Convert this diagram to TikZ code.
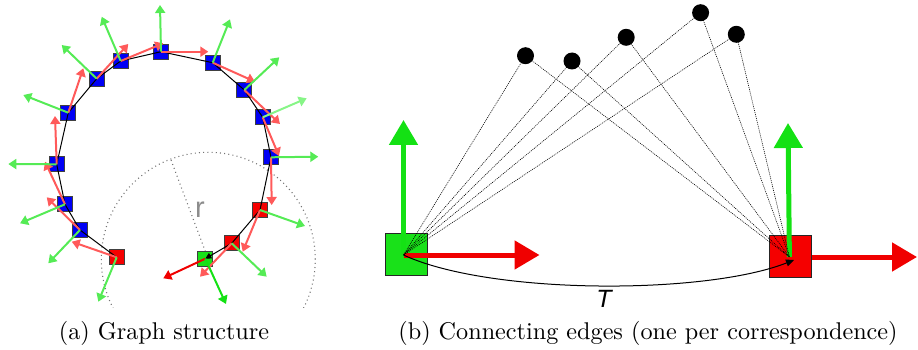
\documentclass[tikz,border=0pt]{standalone}
\usepackage{fontspec}
\newfontfamily\labfont{Liberation Sans}
\usetikzlibrary{arrows.meta}
\definecolor{ltred}{RGB}{255,90,90}
\definecolor{ltgreen}{RGB}{85,235,85}
\definecolor{paleg}{RGB}{135,245,135}
\definecolor{brred}{RGB}{240,0,0}
\definecolor{brgreen}{RGB}{20,225,20}
\definecolor{sqblue}{RGB}{0,0,245}
\definecolor{sqred}{RGB}{245,0,0}
\definecolor{sqgreen}{RGB}{25,225,25}
\begin{document}
\begin{tikzpicture}[x=1pt,y=-1pt,
  sq/.style={draw=black!75, line width=0.8pt, rectangle, minimum size=15pt, inner sep=0pt},
  bigsq/.style={draw=black!85, line width=0.9pt, rectangle, minimum width=42pt, minimum height=42pt, inner sep=0pt},
  odo/.style={draw=ltred, line width=2pt, -{Triangle[width=10pt,length=8pt]}},
  nrm/.style={draw=ltgreen, line width=2pt, -{Triangle[width=10pt,length=8pt]}},
  chain/.style={draw=black, line width=1pt},
  fat/.style={line width=5pt, -{Triangle[width=28pt,length=25pt]}},
  circ/.style={draw=black!55, line width=1.1pt, dash pattern=on 1pt off 3.2pt},
  corr/.style={draw=black, line width=0.6pt, dash pattern=on 1pt off 1pt},
  dot/.style={circle, fill=black, minimum size=17pt, inner sep=0pt},
  captext/.style={anchor=base, scale=2.42, inner sep=0pt}]
\useasboundingbox (0,0) rectangle (918,350);

% ---------------- (a) graph structure ----------------
\coordinate (c0) at (208.3,259.3);
\coordinate (rr) at (171,160);
\begin{scope}
\clip (0,0) rectangle (918,307);
\draw[circ] (c0) circle[radius=107pt];
\end{scope}
\draw[circ] (c0) -- (rr);
\node[text=black!45, font=\labfont\fontsize{29}{30}\selectfont] (rlab) at (200,210) {r};

\node[sq, fill=sqred]   (n1)  at (116.7,257.3) {};
\node[sq, fill=sqblue]  (n2)  at (80,230) {};
\node[sq, fill=sqblue]  (n3)  at (65,204.3) {};
\node[sq, fill=sqblue]  (n4)  at (56.7,164.3) {};
\node[sq, fill=sqblue]  (n5)  at (68.3,112.7) {};
\node[sq, fill=sqblue]  (n6)  at (96.7,78.7) {};
\node[sq, fill=sqblue]  (n7)  at (120.7,61) {};
\node[sq, fill=sqblue]  (n8)  at (161,51.7) {};
\node[sq, fill=sqblue]  (n9)  at (212.7,62.7) {};
\node[sq, fill=sqblue]  (n10) at (244.3,90) {};
\node[sq, fill=sqblue]  (n11) at (262.7,117.3) {};
\node[sq, fill=sqblue]  (n12) at (271,157.3) {};
\node[sq, fill=sqred]   (n13) at (260,210) {};
\node[sq, fill=sqred]   (n14) at (231.7,243.3) {};
\node[sq, fill=sqgreen] (n15) at (205.3,258.7) {};

\draw[chain] (n1.center) -- (n2.center) -- (n3.center) -- (n4.center) -- (n5.center)
  -- (n6.center) -- (n7.center) -- (n8.center) -- (n9.center) -- (n10.center)
  -- (n11.center) -- (n12.center) -- (n13.center) -- (n14.center);
\draw[chain, -{Triangle[width=6pt,length=6pt]}] (n14.center) -- (n15.center);

% odometry (red) arrows
\coordinate (r1)  at (71.7,241.7);
\coordinate (r2)  at (46.7,197.3);
\coordinate (r3)  at (45,161.7);
\coordinate (r4)  at (55,116);
\coordinate (r5)  at (83.3,68.3);
\coordinate (r6)  at (128.3,44);
\coordinate (r7)  at (163.3,43.3);
\coordinate (r8)  at (208.3,51.7);
\coordinate (r9)  at (255,81.7);
\coordinate (r10) at (280,124);
\coordinate (r11) at (279,156);
\coordinate (r12) at (271.7,205);
\coordinate (r13) at (242.7,251.7);
\coordinate (r14) at (200,276.7);
\foreach \i in {1,...,14} { \draw[odo] (n\i.center) -- (r\i); }

% normals (green)
\coordinate (g1)  at (98.3,301.7);
\coordinate (g2)  at (48.3,263.3);
\coordinate (g3)  at (20,223.3);
\coordinate (g4)  at (8.3,164);
\coordinate (g5)  at (23.3,95);
\coordinate (g6)  at (61.7,45);
\coordinate (g7)  at (101.7,16.7);
\coordinate (g8)  at (160,5);
\coordinate (g9)  at (230,19.3);
\coordinate (g10) at (279.3,57.3);
\coordinate (g11) at (306.7,98.3);
\coordinate (g12) at (318.3,156.7);
\coordinate (g13) at (305,226);
\coordinate (g14) at (266.7,276.7);
\foreach \i in {1,...,10,12,13,14} { \draw[nrm] (n\i.center) -- (g\i); }
\draw[nrm, draw=paleg] (n11.center) -- (g11);

% current pose axes
\coordinate (bx) at (163.3,278.3);
\coordinate (by) at (226,304);
\draw[draw=brred, line width=2pt, -{Triangle[width=10pt,length=8pt]}] (n15.center) -- (bx);
\draw[draw=brgreen, line width=2pt, -{Triangle[width=10pt,length=8pt]}] (n15.center) -- (by);

% ---------------- (b) connecting edges ----------------
\node[bigsq, fill=sqgreen] (sL) at (406.4,254) {};
\node[bigsq, fill=sqred]   (sR) at (790.5,256.3) {};
\coordinate (oL) at (403.5,255);
\coordinate (oR) at (789.4,257);
\coordinate (aLy) at (403.5,120);
\coordinate (aLx) at (539.5,255);
\coordinate (aRy) at (788,123);
\coordinate (aRx) at (917,257);
\draw[fat, draw=brgreen] (oL) -- (aLy);
\draw[fat, draw=brred] (oL) -- (aLx);
\draw[fat, draw=brgreen] (oR) -- (aRy);
\draw[fat, draw=brred] (sR.east |- oR) -- (aRx);

\node[dot] (d1) at (525.5,55.7) {};
\node[dot] (d2) at (572,61) {};
\node[dot] (d3) at (626.2,37.3) {};
\node[dot] (d4) at (700.6,12.7) {};
\node[dot] (d5) at (736.3,34.3) {};
\foreach \d in {d1,d2,d3,d4,d5} {
  \draw[corr] (\d.center) -- (oL);
  \draw[corr] (\d.center) -- (oR);
}

\coordinate (tT) at (794,260);
\draw[line width=1pt, -{Triangle[width=7pt,length=8pt]}] (oL) .. controls (490,295) and (705,295) .. (tT);
\node[font=\labfont\itshape\fontsize{25}{26}\selectfont] (T) at (604,299) {T};

% captions
\node[captext] (capa) at (164,339) {(a) Graph structure};
\node[captext] (capb) at (648,339) {(b) Connecting edges (one per correspondence)};
\end{tikzpicture}
\end{document}
